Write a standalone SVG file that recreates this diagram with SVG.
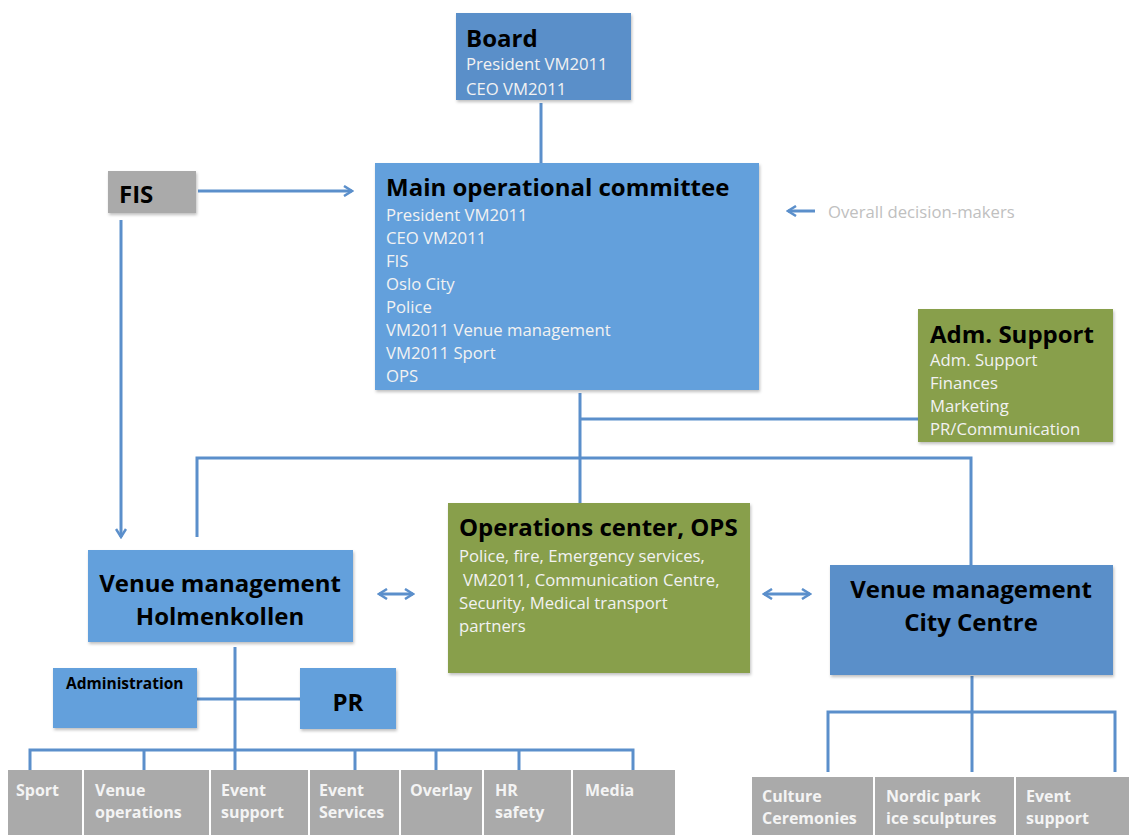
<svg xmlns="http://www.w3.org/2000/svg" width="1129" height="835" viewBox="0 0 1129 835">
<style>
  text { font-family: "Open Sans", Lato, "Liberation Sans", sans-serif; }
  .blue { fill: #64a0dc; }
  .dblue { fill: #5a8fc9; }
  .green { fill: #889f4c; }
  .gray { fill: #aaaaaa; }
  .title { font-size: 24px; font-weight: bold; fill: #000; }
  .sub { font-size: 16.7px; fill: #f2f2f2; }
  .leaf { font-size: 16px; font-weight: bold; fill: #f4f4f4; }
  .conn { stroke: #5b8fcb; stroke-width: 3; fill: none; }
</style>
<defs>
  <filter id="sh" x="-5%" y="-5%" width="110%" height="115%">
    <feDropShadow dx="1" dy="2" stdDeviation="1.5" flood-color="#000" flood-opacity="0.25"/>
  </filter>
  <marker id="ah" viewBox="0 0 12 12" refX="10" refY="6" markerWidth="12" markerHeight="12" markerUnits="userSpaceOnUse" orient="auto-start-reverse">
    <polyline points="2,1 10,6 2,11" fill="none" stroke="#5b8fcb" stroke-width="2.5"/>
  </marker>
</defs>

<g id="connectors">
  <line class="conn" x1="541" y1="103" x2="541" y2="163"/>
  <line class="conn" x1="198" y1="191" x2="352" y2="191" marker-end="url(#ah)"/>
  <line class="conn" x1="121" y1="220" x2="121" y2="537" marker-end="url(#ah)"/>
  <line class="conn" x1="815" y1="211" x2="788" y2="211" marker-end="url(#ah)"/>
  <line class="conn" x1="580" y1="393" x2="580" y2="503"/>
  <line class="conn" x1="580" y1="419" x2="918" y2="419"/>
  <polyline class="conn" points="197,537 197,458 971,458 971,565"/>
  <line class="conn" x1="379" y1="594" x2="413" y2="594" marker-start="url(#ah)" marker-end="url(#ah)"/>
  <line class="conn" x1="764" y1="594" x2="810" y2="594" marker-start="url(#ah)" marker-end="url(#ah)"/>
  <line class="conn" x1="235" y1="647" x2="235" y2="750"/>
  <line class="conn" x1="197" y1="699" x2="300" y2="699"/>
  <polyline class="conn" points="30,770 30,750 633,750 633,770"/>
  <line class="conn" x1="144" y1="750" x2="144" y2="770"/>
  <line class="conn" x1="235" y1="750" x2="235" y2="770"/>
  <line class="conn" x1="355" y1="750" x2="355" y2="770"/>
  <line class="conn" x1="436" y1="750" x2="436" y2="770"/>
  <line class="conn" x1="519" y1="750" x2="519" y2="770"/>
  <line class="conn" x1="972" y1="676" x2="972" y2="772"/>
  <polyline class="conn" points="828,772 828,712 1115,712 1115,772"/>
</g>

<g id="board">
  <rect class="dblue" x="456" y="13" width="175" height="87" filter="url(#sh)"/>
  <text class="title" x="466" y="47">Board</text>
  <text class="sub" x="466" y="70">President VM2011</text>
  <text class="sub" x="466" y="95">CEO VM2011</text>
</g>

<g id="fis">
  <rect class="gray" x="108" y="171" width="88" height="42" filter="url(#sh)"/>
  <text class="title" x="119" y="203">FIS</text>
</g>

<g id="main-committee">
  <rect class="blue" x="375" y="163" width="384" height="227" filter="url(#sh)"/>
  <text class="title" x="386" y="196">Main operational committee</text>
  <text class="sub" x="386" y="221">President VM2011</text>
  <text class="sub" x="386" y="244">CEO VM2011</text>
  <text class="sub" x="386" y="267">FIS</text>
  <text class="sub" x="386" y="290">Oslo City</text>
  <text class="sub" x="386" y="313">Police</text>
  <text class="sub" x="386" y="336">VM2011 Venue management</text>
  <text class="sub" x="386" y="359">VM2011 Sport</text>
  <text class="sub" x="386" y="382">OPS</text>
</g>

<g id="overall-label">
  <text x="828" y="218" style="font-size:16.7px; fill:#c0c0c0;">Overall decision-makers</text>
</g>

<g id="adm-support">
  <rect class="green" x="918" y="309" width="195" height="133" filter="url(#sh)"/>
  <text class="title" x="930" y="343">Adm. Support</text>
  <text class="sub" x="930" y="366">Adm. Support</text>
  <text class="sub" x="930" y="389">Finances</text>
  <text class="sub" x="930" y="412">Marketing</text>
  <text class="sub" x="930" y="435">PR/Communication</text>
</g>

<g id="ops">
  <rect class="green" x="448" y="503" width="302" height="170" filter="url(#sh)"/>
  <text class="title" x="459" y="536">Operations center, OPS</text>
  <text class="sub" x="459" y="562">Police, fire, Emergency services,</text>
  <text class="sub" x="463" y="586">VM2011, Communication Centre,</text>
  <text class="sub" x="459" y="609">Security, Medical transport</text>
  <text class="sub" x="459" y="632">partners</text>
</g>

<g id="venue-holmenkollen">
  <rect class="blue" x="88" y="550" width="265" height="92" filter="url(#sh)"/>
  <text class="title" x="220" y="592" text-anchor="middle">Venue management</text>
  <text class="title" x="220" y="625" text-anchor="middle">Holmenkollen</text>
</g>

<g id="venue-city">
  <rect class="dblue" x="830" y="565" width="283" height="110" filter="url(#sh)"/>
  <text class="title" x="971" y="598" text-anchor="middle">Venue management</text>
  <text class="title" x="971" y="631" text-anchor="middle">City Centre</text>
</g>

<g id="administration">
  <rect class="blue" x="53" y="668" width="144" height="60" filter="url(#sh)"/>
  <text x="66" y="689" style="font-size:15.5px; font-weight:bold; fill:#000;">Administration</text>
</g>

<g id="pr">
  <rect class="blue" x="300" y="668" width="96" height="61" filter="url(#sh)"/>
  <text class="title" x="348" y="711" text-anchor="middle">PR</text>
</g>

<g id="sport"><rect class="gray" x="8" y="770" width="74" height="65"/><text class="leaf" x="16" y="796">Sport</text></g>
<g id="venue-operations"><rect class="gray" x="84" y="770" width="125" height="65"/><text class="leaf" x="95" y="796">Venue</text><text class="leaf" x="95" y="818">operations</text></g>
<g id="event-support-h"><rect class="gray" x="211" y="770" width="97" height="65"/><text class="leaf" x="221" y="796">Event</text><text class="leaf" x="221" y="818">support</text></g>
<g id="event-services"><rect class="gray" x="310" y="770" width="89" height="65"/><text class="leaf" x="319" y="796">Event</text><text class="leaf" x="319" y="818">Services</text></g>
<g id="overlay"><rect class="gray" x="401" y="770" width="81" height="65"/><text class="leaf" x="410" y="796">Overlay</text></g>
<g id="hr-safety"><rect class="gray" x="484" y="770" width="87" height="65"/><text class="leaf" x="495" y="796">HR</text><text class="leaf" x="495" y="818">safety</text></g>
<g id="media"><rect class="gray" x="573" y="770" width="102" height="65"/><text class="leaf" x="585" y="796">Media</text></g>

<g id="culture"><rect class="gray" x="752" y="777" width="121" height="58"/><text class="leaf" x="762" y="802">Culture</text><text class="leaf" x="762" y="824">Ceremonies</text></g>
<g id="nordic-park"><rect class="gray" x="875" y="777" width="139" height="58"/><text class="leaf" x="886" y="802">Nordic park</text><text class="leaf" x="886" y="824">ice sculptures</text></g>
<g id="event-support-c"><rect class="gray" x="1016" y="777" width="113" height="58"/><text class="leaf" x="1026" y="802">Event</text><text class="leaf" x="1026" y="824">support</text></g>
</svg>
